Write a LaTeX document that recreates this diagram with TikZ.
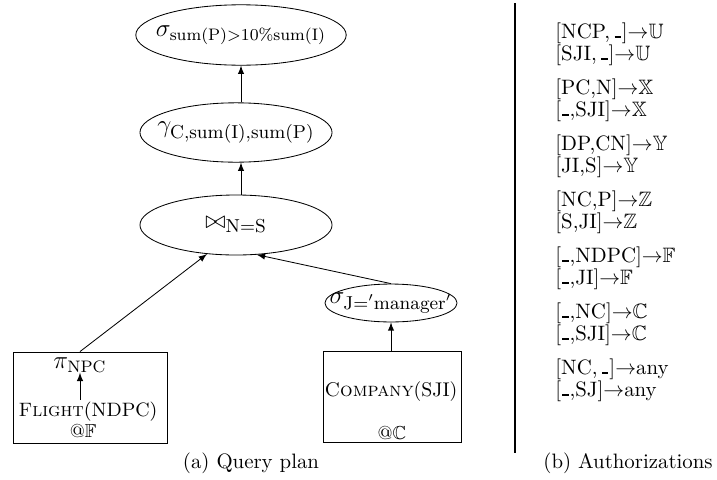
\documentclass[tikz,border=0pt]{standalone}
\usepackage{amsmath,amssymb}
\usetikzlibrary{arrows,shapes.geometric}
\tikzset{
	op/.style={draw, ellipse, inner sep=0pt},
	rel/.style={draw, rectangle, inner sep=0pt, minimum height=43.7pt},
	auth/.style={anchor=west, inner sep=0pt}
}
\newcommand{\anyattr}{\kern.5pt\rule{3pt}{0.9pt}\kern.5pt}

\begin{document}
\begin{tikzpicture}[x=0.48pt, y=-0.48pt]
	\useasboundingbox (0,0) rectangle (717,479);
	% (a) query plan
	\node[op, minimum width=101pt, minimum height=29pt] (sel) at (241,35) {\makebox[0pt]{\large$\sigma_{\mathrm{sum(P)>10\%sum(I)}}$}};
	\node[op, minimum width=92.2pt, minimum height=28.5pt] (grp) at (236,132.5) {\makebox[0pt]{\large$\gamma_{\text{\small C,sum(I),sum(P)}}$}};
	\node[op, minimum width=92.2pt, minimum height=28.8pt] (join) at (236,225) {\makebox[0pt]{\large$\bowtie_{\text{\small N=S}}$}};
	\node[op, minimum width=63.4pt, minimum height=18.2pt] (selj) at (391,303) {\makebox[0pt]{\large$\sigma_{\text{\small J$='$manager$'$}}$}};
	\node[rel, minimum width=73.9pt] (fbox) at (90,397.5) {};
	\node[rel, minimum width=66.2pt] (cbox) at (392,396.5) {};
	\node[inner sep=0pt] (pi) at (80,365) {\large$\pi_{\mathrm{NPC}}$};
	\node[inner sep=1pt] (flight) at (88,412) {\fontsize{9.3}{11}\selectfont\textsc{Flight}(NDPC)};
	\node[inner sep=0pt] (atf) at (83,431) {\small@$\mathbb{F}$};
	\node[inner sep=0pt] (company) at (391,392) {\fontsize{9.5}{11}\selectfont\textsc{Company}(SJI)};
	\node[inner sep=0pt] (atc) at (392,433) {\small@$\mathbb{C}$};
	\draw[-latex] (flight.north -| pi.south) -- (pi.south);
	\draw[-latex] (pi.north |- fbox.north) -- (join.225);
	\draw[-latex] (cbox.north -| selj.south) -- (selj.south);
	\draw[-latex] (selj.north) -- (join.305);
	\draw[-latex] (join.north -| sel.south) -- (grp.south -| sel.south);
	\draw[-latex] (grp.north -| sel.south) -- (sel.south);
	\node (capa) at (251,463) {(a) Query plan};
	% (b) authorizations
	\draw[line width=1.2pt] (515,3) -- (515,453);
	\foreach \ra/\rb/\dst [count=\k from 0] in {
		{[NCP,\,\anyattr]}/{[SJI,\,\anyattr]}/{$\mathbb{U}$},
		{[PC,N]}/{[\anyattr,SJI]}/{$\mathbb{X}$},
		{[DP,CN]}/{[JI,S]}/{$\mathbb{Y}$},
		{[NC,P]}/{[S,JI]}/{$\mathbb{Z}$},
		{[\anyattr,NDPC]}/{[\anyattr,JI]}/{$\mathbb{F}$},
		{[\anyattr,NC]}/{[\anyattr,SJI]}/{$\mathbb{C}$},
		{[NC,\,\anyattr]}/{[\anyattr,SJ]}/{any}}
	{
		\node[auth] (auth\k a) at (555,{33+56*\k}) {\ra$\rightarrow$\dst};
		\node[auth] (auth\k b) at (555,{55+56*\k}) {\rb$\rightarrow$\dst};
	}
	\node (capb) at (628,463) {(b) Authorizations};
\end{tikzpicture}
\end{document}
